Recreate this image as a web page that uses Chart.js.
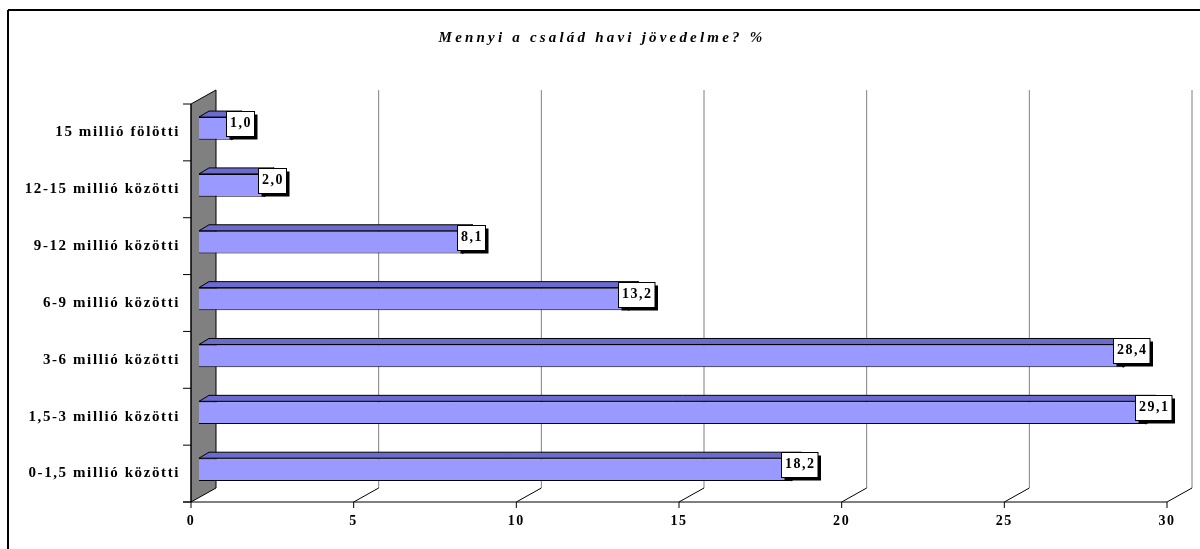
<!DOCTYPE html>
<html>
<head>
<meta charset="utf-8">
<script src="https://cdn.jsdelivr.net/npm/chart.js@4/dist/chart.umd.min.js"></script>
<style>
  body { margin: 0; background: #ffffff; }
  canvas { display: block; }
</style>
</head>
<body>
<canvas id="myChart" width="1200" height="549"></canvas>
<script>
const chartTitle = "Mennyi a család havi jövedelme? %";
const categories = [
  "15 millió fölötti",
  "12-15 millió közötti",
  "9-12 millió közötti",
  "6-9 millió közötti",
  "3-6 millió közötti",
  "1,5-3 millió közötti",
  "0-1,5 millió közötti",
];
const percentValues = [1.0, 2.0, 8.1, 13.2, 28.4, 29.1, 18.2];
const xTicks = [0, 5, 10, 15, 20, 25, 30];

const serif = "'Liberation Serif', 'Times New Roman', serif";

// 3d offsets (px): the bar faces sit a bit in front of the back wall
const frontShift = -8;
const backShift = 17;

function line(ctx, x1, y1, x2, y2) {
  ctx.beginPath();
  ctx.moveTo(x1, y1);
  ctx.lineTo(x2, y2);
  ctx.stroke();
}

const depthPlugin = {
  id: "depth",
  beforeDraw(chart) {
    const ctx = chart.ctx;
    ctx.save();
    ctx.strokeStyle = "#000";
    ctx.lineWidth = 2;
    line(ctx, 8, 10, 1200, 10);
    line(ctx, 8, 10, 8, 549);
    ctx.restore();
    ctx.letterSpacing = "1.6px";
  },
  beforeDatasetsDraw(chart) {
    const ctx = chart.ctx;
    const area = chart.chartArea;
    const xs = chart.scales.x;
    const frontTop = area.top + 4;
    const frontBottom = area.bottom + 4;
    const backTop = area.top - 10;
    const backBottom = area.bottom - 10;
    const zero = xs.getPixelForValue(0);

    ctx.save();
    ctx.lineWidth = 1;

    // back gridlines + floor diagonals
    xTicks.forEach((v) => {
      const px = xs.getPixelForValue(v);
      if (v > 0) {
        ctx.strokeStyle = "#808080";
        line(ctx, px + backShift, backTop, px + backShift, backBottom);
        ctx.strokeStyle = "#000";
        line(ctx, px + backShift, backBottom, px + frontShift, frontBottom);
      }
      ctx.strokeStyle = "#000";
      line(ctx, px + frontShift, frontBottom, px + frontShift, frontBottom + 6);
    });

    // left wall
    ctx.fillStyle = "#808080";
    ctx.strokeStyle = "#000";
    ctx.beginPath();
    ctx.moveTo(zero + frontShift, frontTop);
    ctx.lineTo(zero + backShift, backTop);
    ctx.lineTo(zero + backShift, backBottom);
    ctx.lineTo(zero + frontShift, frontBottom);
    ctx.closePath();
    ctx.fill();
    ctx.stroke();

    // front axis lines and category ticks
    line(ctx, zero + frontShift - 8, frontBottom, xs.getPixelForValue(30) + frontShift, frontBottom);
    line(ctx, zero + frontShift, frontTop, zero + frontShift, frontBottom);
    const n = categories.length;
    for (let k = 0; k <= n; k++) {
      const y = frontTop + (k * (frontBottom - frontTop)) / n;
      line(ctx, zero + frontShift - 8, y, zero + frontShift, y);
    }
    ctx.restore();
  },
  afterDatasetsDraw(chart) {
    const ctx = chart.ctx;
    const meta = chart.getDatasetMeta(0);
    ctx.save();
    ctx.lineWidth = 1;
    ctx.strokeStyle = "#000";
    meta.data.forEach((bar, i) => {
      const p = bar.getProps(["x", "y", "base", "height"], true);
      const top = p.y - p.height / 2;
      const bottom = p.y + p.height / 2;
      // top face
      ctx.fillStyle = "#6b6bcf";
      ctx.beginPath();
      ctx.moveTo(p.base, top);
      ctx.lineTo(p.base + 10, top - 6);
      ctx.lineTo(p.x + 10, top - 6);
      ctx.lineTo(p.x, top);
      ctx.closePath();
      ctx.fill();
      ctx.stroke();
      // end face
      ctx.fillStyle = "#4d4d99";
      ctx.beginPath();
      ctx.moveTo(p.x, top);
      ctx.lineTo(p.x + 10, top - 6);
      ctx.lineTo(p.x + 10, bottom - 6);
      ctx.lineTo(p.x, bottom);
      ctx.closePath();
      ctx.fill();
      ctx.stroke();

      // value label box with shadow
      const text = percentValues[i].toFixed(1).replace(".", ",");
      ctx.font = "bold 14px " + serif;
      ctx.letterSpacing = "1.5px";
      const w = ctx.measureText(text).width + 6;
      const h = 25;
      const cx = p.x + 8;
      const bx = Math.round(cx - w / 2) + 0.5;
      const by = Math.round(top - 6) + 0.5;
      ctx.fillStyle = "#000";
      ctx.fillRect(bx + 3, by + 3, w, h);
      ctx.fillStyle = "#fff";
      ctx.fillRect(bx, by, w, h);
      ctx.strokeRect(bx, by, w, h);
      ctx.fillStyle = "#000";
      ctx.textAlign = "left";
      ctx.textBaseline = "middle";
      ctx.fillText(text, bx + 3.5, by + h / 2 - 1);
    });
    ctx.restore();
  },
  afterDraw(chart) {
    const ctx = chart.ctx;
    ctx.save();
    ctx.font = "italic bold 15px " + serif;
    ctx.letterSpacing = "3.2px";
    ctx.fillStyle = "#000";
    ctx.textAlign = "center";
    ctx.textBaseline = "middle";
    ctx.fillText(chartTitle, 602, 38);
    ctx.restore();
  },
};

function createChart() {
  const data = {
    labels: categories,
    datasets: [
      {
        label: "%",
        data: percentValues,
        backgroundColor: "#9999ff",
        borderColor: "#000",
        borderWidth: 1,
        barPercentage: 0.4,
        categoryPercentage: 1,
      },
    ],
  };

  const config = {
    type: "bar",
    data,
    plugins: [depthPlugin],
    options: {
      indexAxis: "y",
      responsive: false,
      animation: false,
      devicePixelRatio: 1,
      layout: { padding: { top: 100, right: 25, left: 0, bottom: 0 } },
      plugins: {
        legend: { display: false },
        title: { display: false },
        tooltip: { enabled: false },
      },
      scales: {
        x: {
          min: 0,
          max: 30,
          ticks: {
            stepSize: 5,
            color: "#000",
            font: { family: serif, size: 14, weight: "bold" },
            padding: 15,
            labelOffset: frontShift,
            maxRotation: 0,
          },
          grid: { display: false, drawTicks: false },
          border: { display: false },
          afterFit(scale) {
            scale.height = 51;
          },
        },
        y: {
          ticks: {
            color: "#000",
            font: { family: serif, size: 15, weight: "bold" },
            padding: 19,
            labelOffset: 4,
          },
          grid: { display: false, drawTicks: false },
          border: { display: false },
          afterFit(scale) {
            scale.width = 199;
          },
        },
      },
    },
  };
  return new Chart(document.getElementById("myChart"), config);
}

createChart();
</script>
</body>
</html>
